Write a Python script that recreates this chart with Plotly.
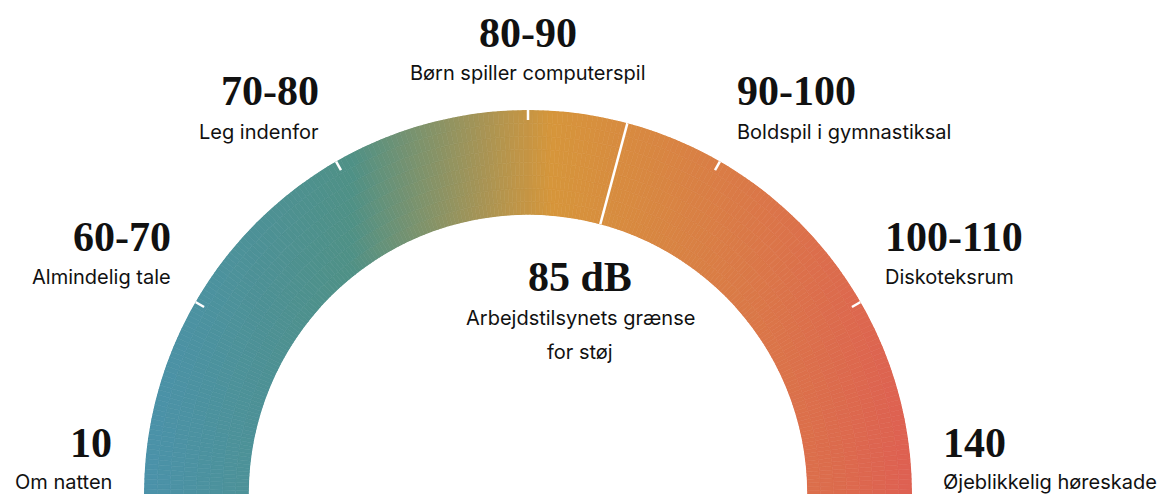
import math
import plotly.graph_objects as go

# ---- data ----
levels = ["10", "60-70", "70-80", "80-90", "90-100", "100-110", "140"]
descriptions = ["Om natten", "Almindelig tale", "Leg indenfor", "Børn spiller computerspil",
                "Boldspil i gymnastiksal", "Diskoteksrum", "Øjeblikkelig høreskade"]
level_pos = [0, 1, 2, 3, 4, 5, 6]          # position of each level on the gauge scale
tick_pos = [1, 2, 3, 4, 5]                  # inner tick marks
threshold_label = "85 dB"
threshold_lines = ["Arbejdstilsynets grænse", "for støj"]
threshold_pos = 3.5                         # 85 dB lies between 80-90 and 90-100

# ---- style ----
gauge_max = 6
hole = 0.727
grad_stops = [(0.0, (75, 146, 170)), (0.27, (79, 145, 134)),
              (0.53, (214, 150, 59)), (1.0, (222, 96, 82))]


def pos_to_theta(p):
    return 180.0 - 180.0 * p / gauge_max


def grad(f):
    f = min(max(f, 0.0), 1.0)
    for (f0, c0), (f1, c1) in zip(grad_stops[:-1], grad_stops[1:]):
        if f <= f1:
            t = (f - f0) / (f1 - f0) if f1 > f0 else 0
            return "rgb(%d,%d,%d)" % tuple(round(a + (b - a) * t) for a, b in zip(c0, c1))
    return "rgb(%d,%d,%d)" % grad_stops[-1][1]


n_ang, n_rad = 240, 8
thetas, bases, rs, cols = [], [], [], []
for i in range(n_ang):
    th = 180.0 * (i + 0.5) / n_ang
    for j in range(n_rad):
        rm = (j + 0.5) / n_rad
        rr = hole + (1 - hole) * rm
        x = rr * math.cos(math.radians(th))
        thetas.append(th)
        bases.append(j / n_rad)
        rs.append(1.0 / n_rad)
        cols.append(grad((x + 1) / 2))

fig = go.Figure()
fig.add_trace(go.Barpolar(
    theta=thetas, base=bases, r=rs, width=180.0 / n_ang,
    marker=dict(color=cols, line=dict(color=cols, width=0.6)),
    hoverinfo="skip", showlegend=False))

for p in tick_pos:
    th = pos_to_theta(p)
    fig.add_trace(go.Scatterpolar(theta=[th, th], r=[0.905, 1.0], mode="lines",
                                  line=dict(color="white", width=2.5),
                                  hoverinfo="skip", showlegend=False, cliponaxis=False))

th = pos_to_theta(threshold_pos)
fig.add_trace(go.Scatterpolar(theta=[th, th], r=[0.0, 1.0], mode="lines",
                              line=dict(color="white", width=2.5),
                              hoverinfo="skip", showlegend=False, cliponaxis=False))

W, H = 1163, 494
fig.update_layout(
    width=W, height=H, margin=dict(l=0, r=0, t=0, b=0),
    paper_bgcolor="white", plot_bgcolor="white", showlegend=False,
    polar=dict(
        domain=dict(x=[143 / W, 913 / W], y=[0.0, 1 - 110 / H]),
        sector=[0, 180], hole=hole, bgcolor="rgba(0,0,0,0)",
        radialaxis=dict(range=[0, 1], visible=False, showgrid=False),
        angularaxis=dict(visible=False, showgrid=False, rotation=0, direction="counterclockwise"),
    ),
)

serif = dict(family="Liberation Serif", size=42, color="#111111", weight="bold")
sans = dict(family="Inter", size=20, color="#111111")

# label placement (pixels): (x, anchor, y_number, y_text)
placement = [
    (114, "right", 443, 482),
    (173, "right", 237, 277),
    (321, "right", 91, 132),
    (528, "center", 33, 73),
    (735, "left", 91, 132),
    (883, "left", 237, 277),
    (941, "left", 443, 482),
]
for lab, desc, (px, anc, yn, yt) in zip(levels, descriptions, placement):
    fig.add_annotation(x=px / W, y=1 - yn / H, xref="paper", yref="paper", text=lab,
                       showarrow=False, xanchor=anc, yanchor="middle", font=serif)
    fig.add_annotation(x=px / W, y=1 - yt / H, xref="paper", yref="paper", text=desc,
                       showarrow=False, xanchor=anc, yanchor="middle", font=sans)

fig.add_annotation(x=580 / W, y=1 - 277 / H, xref="paper", yref="paper", text=threshold_label,
                   showarrow=False, xanchor="center", yanchor="middle", font=serif)
for txt, py in zip(threshold_lines, [318, 352]):
    fig.add_annotation(x=580 / W, y=1 - py / H, xref="paper", yref="paper", text=txt,
                       showarrow=False, xanchor="center", yanchor="middle", font=sans)

fig.write_html("out.html", config={"displayModeBar": False},
               post_script="document.body.style.margin='0';document.body.style.overflow='hidden';")
